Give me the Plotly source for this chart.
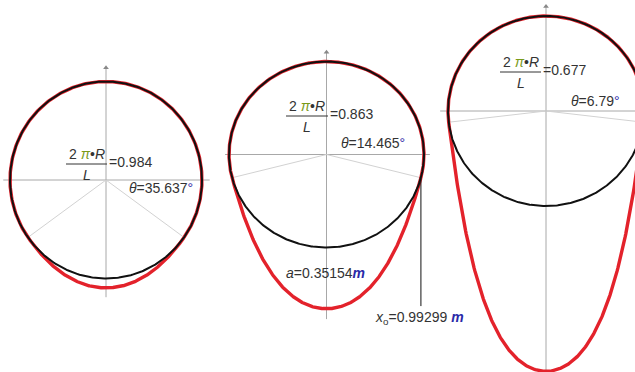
import numpy as np
import plotly.graph_objects as go

# Loop of length L wrapped over a cylinder of radius R: circular arc on top,
# catenary sag below, tangent to the circle at the angle theta under the horizontal.
ratios = ["0.984", "0.863", "0.677"]          # 2*pi*R / L
thetas_deg = [35.637, 14.465, 6.79]           # contact angle below horizontal
a_value = "0.35154"                           # catenary parameter (third loop)
xo_value = "0.99299"                          # contact abscissa (third loop)

W, H = 635, 372
# panel centre (px) and px-per-unit scales
centers = [(106, 180), (326.5, 154.5), (546, 111)]
scales = [(96, 98.5), (97.5, 93), (98, 95)]
# extent of the reference axes in panel units: (x_left, x_right, y_bottom, y_top)
axis_ext = [(-1.07, 1.08, -1.19, 1.14), (-1.04, 1.06, -1.77, 1.10), (-1.08, 1.12, -2.85, 1.10)]

RED = "#e3222b"
BLACK = "#111111"
AXIS = "#a8a8a8"
RAY = "#d2d2d2"
TXT = "#333333"
BLUE = "#2a2aa8"
FONT = "Liberation Sans, Arial, sans-serif"

fig = go.Figure()


def ax_names(k):
    return ("x" if k == 0 else f"x{k+1}", "y" if k == 0 else f"y{k+1}")


for k, th_deg in enumerate(thetas_deg):
    xa, ya = ax_names(k)
    th = np.radians(th_deg)
    xc, yc = np.cos(th), -np.sin(th)

    # catenary tangent to the circle at (+-xc, yc)
    a = xc / np.arcsinh(1.0 / np.tan(th))
    xs = np.linspace(-xc, xc, 300)
    ys = yc + a * (np.cosh(xs / a) - np.cosh(xc / a))

    # arc over the top from the right contact to the left contact
    phi = np.linspace(-th, np.pi + th, 400)
    loop_x = np.concatenate([np.cos(phi), xs])
    loop_y = np.concatenate([np.sin(phi), ys])
    loop_x = np.append(loop_x, loop_x[0])
    loop_y = np.append(loop_y, loop_y[0])

    xl, xr, yb, yt = axis_ext[k]
    # coordinate axes
    fig.add_trace(go.Scatter(x=[xl, xr], y=[0, 0], mode="lines",
                             line=dict(color=AXIS, width=1), xaxis=xa, yaxis=ya))
    fig.add_trace(go.Scatter(x=[0, 0], y=[yb, yt], mode="lines",
                             line=dict(color=AXIS, width=1), xaxis=xa, yaxis=ya))
    fig.add_trace(go.Scatter(x=[0], y=[yt], mode="markers",
                             marker=dict(symbol="triangle-up", size=5, color="#888888"),
                             xaxis=xa, yaxis=ya))
    # rays to the contact points
    fig.add_trace(go.Scatter(x=[-xc, 0, xc], y=[yc, 0, yc], mode="lines",
                             line=dict(color=RAY, width=1), xaxis=xa, yaxis=ya))
    # rope loop and the cylinder
    fig.add_trace(go.Scatter(x=loop_x, y=loop_y, mode="lines",
                             line=dict(color=RED, width=3.4), xaxis=xa, yaxis=ya))
    circ = np.linspace(0, 2 * np.pi, 500)
    fig.add_trace(go.Scatter(x=np.cos(circ), y=np.sin(circ), mode="lines",
                             line=dict(color=BLACK, width=2), xaxis=xa, yaxis=ya))

    if k == 1:
        # leader line dropped from the right contact point
        fig.add_trace(go.Scatter(x=[xc, xc], y=[yc, -1.63], mode="lines",
                                 line=dict(color=BLACK, width=1), xaxis=xa, yaxis=ya))

layout_axes = {}
for k in range(3):
    cx, cy = centers[k]
    sx, sy = scales[k]
    xr_ = [(0 - cx) / sx, (W - cx) / sx]
    yr_ = [-(H - cy) / sy, cy / sy]
    xkey = "xaxis" if k == 0 else f"xaxis{k+1}"
    ykey = "yaxis" if k == 0 else f"yaxis{k+1}"
    xd = dict(range=xr_, visible=False, domain=[0, 1], fixedrange=True)
    yd = dict(range=yr_, visible=False, domain=[0, 1], fixedrange=True)
    if k > 0:
        xd["overlaying"] = "x"
        yd["overlaying"] = "y"
        xd["anchor"] = f"y{k+1}"
        yd["anchor"] = f"x{k+1}"
    layout_axes[xkey] = xd
    layout_axes[ykey] = yd


def P(px, py):
    return px / W, 1 - py / H


annotations = []
shapes = []


def txt(px, py, text, anchor="center", size=14):
    x, y = P(px, py)
    annotations.append(dict(x=x, y=y, xref="paper", yref="paper", text=text,
                            showarrow=False, xanchor=anchor, yanchor="middle",
                            font=dict(family=FONT, size=size, color=TXT)))


# fraction blocks: (bar left, bar right, bar y)
frac_pos = [(66, 107, 164), (286, 328, 116), (500, 541, 72)]
theta_pos = [(127, 188), (339, 143), (569, 101)]
num = "2 <span style='color:#7a9a1a'><i>π</i></span>•<i>R</i>"
for k in range(3):
    x0, x1, yb = frac_pos[k]
    mid = (x0 + x1) / 2
    txt(mid, yb - 10, num)
    txt(mid, yb + 11, "<i>L</i>")
    txt(x1, yb - 2, "=" + ratios[k], anchor="left")
    bx0, by = P(x0, yb)
    bx1, _ = P(x1, yb)
    shapes.append(dict(type="line", xref="paper", yref="paper", x0=bx0, x1=bx1,
                       y0=by, y1=by, line=dict(color=TXT, width=1)))
    tx, ty = theta_pos[k]
    theta_str = f"{thetas_deg[k]:g}"
    txt(tx, ty, f"<i>θ</i>={theta_str}<span style='color:{BLUE}'>°</span>", anchor="left")

txt(284, 273, f"<i>a</i>={a_value}<b><i><span style='color:{BLUE}'>m</span></i></b>", anchor="left")
txt(373, 318, f"<i>x</i><sub>o</sub>={xo_value} <b><i><span style='color:{BLUE}'>m</span></i></b>", anchor="left")

fig.update_layout(
    width=W, height=H,
    margin=dict(l=0, r=0, t=0, b=0),
    paper_bgcolor="white", plot_bgcolor="white",
    showlegend=False,
    annotations=annotations, shapes=shapes,
    **layout_axes,
)

fig.write_html("out.html")
